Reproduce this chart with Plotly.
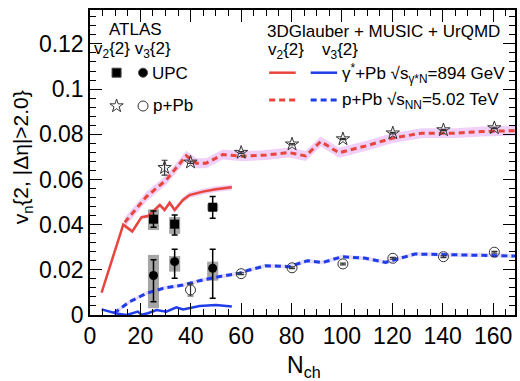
import plotly.graph_objects as go

# ---------------- data ----------------
# ATLAS UPC
upc_x = [25.2, 33.6, 48.7]
upc_v2 = [0.0424, 0.0402, 0.0477]
upc_v2_stat_up = [0.0036, 0.0041, 0.0047]
upc_v2_stat_dn = [0.0036, 0.0048, 0.0049]
upc_v2_sys_up = [0.0044, 0.0031, 0.0015]
upc_v2_sys_dn = [0.0048, 0.0043, 0.0015]
upc_v3 = [0.0175, 0.0236, 0.0207]
upc_v3_stat_up = [0.0069, 0.0055, 0.0084]
upc_v3_stat_dn = [0.0116, 0.0073, 0.0133]
upc_v3_sys_up = [0.0091, 0.0025, 0.0029]
upc_v3_sys_dn = [0.0145, 0.0044, 0.0055]

# ATLAS p+Pb
ppb_x = [29.6, 39.9, 60.0, 80.2, 100.4, 120.2, 140.3, 160.5]
ppb_v2 = [0.0652, 0.0676, 0.0719, 0.0756, 0.0779, 0.0805, 0.0819, 0.0828]
ppb_v2_err = [0.0033, 0.0005, 0.0004, 0.0003, 0.0003, 0.0003, 0.0003, 0.0003]
ppb_v3_x = [39.9, 60.0, 80.2, 100.4, 120.2, 140.3, 160.5]
ppb_v3 = [0.0111, 0.0183, 0.0209, 0.0226, 0.0251, 0.0258, 0.0278]
ppb_v3_err = [0.0027, 0.0004, 0.0004, 0.0004, 0.0004, 0.0004, 0.0004]

# 3DGlauber + MUSIC + UrQMD, gamma*+Pb
g_x = [4.6, 13.2, 16.8, 20.4, 23.0, 25.7, 27.7, 29.6, 31.6, 33.6, 36.9, 39.5, 44.8, 50.0, 56.3]
g_v2 = [0.0099, 0.0400, 0.0370, 0.0432, 0.0438, 0.0465, 0.0487, 0.0465, 0.0497, 0.0465, 0.0509, 0.0531, 0.0546, 0.0557, 0.0565]
g_v2_band = [0.0008, 0.0009, 0.0009, 0.0009, 0.0009, 0.0010, 0.0010, 0.0011, 0.0011, 0.0012, 0.0012, 0.0013, 0.0013, 0.0013, 0.0013]
g3_x = [4.6, 10.5, 14.5, 19.0, 20.4, 23.0, 26.4, 30.3, 34.3, 36.9, 43.5, 50.0, 56.3]
g_v3 = [0.0025, 0.0007, 0.0000, 0.0015, 0.0001, 0.0008, 0.0022, 0.0015, 0.0034, 0.0025, 0.0040, 0.0044, 0.0038]

# 3DGlauber + MUSIC + UrQMD, p+Pb
p_x = [13.8, 22.4, 30.3, 38.2, 42.2, 46.1, 52.7, 60.6, 70.0, 79.0, 85.6, 91.6, 98.8, 109.4, 119.9, 131.7, 145.0, 155.5, 168.7]
p_v2 = [0.0410, 0.0524, 0.0598, 0.0705, 0.0672, 0.0672, 0.0710, 0.0703, 0.0708, 0.0719, 0.0704, 0.0768, 0.0718, 0.0748, 0.0782, 0.0805, 0.0805, 0.0812, 0.0816]
p_v2_band = 0.0022
p3_x = [9.5, 15.8, 22.4, 29.0, 36.9, 43.5, 51.4, 59.3, 63.2, 69.8, 79.0, 86.3, 92.2, 100.1, 109.4, 117.3, 129.0, 145.0, 155.5, 168.7]
p_v3 = [0.0008, 0.0059, 0.0096, 0.0118, 0.0133, 0.0152, 0.0170, 0.0185, 0.0199, 0.0218, 0.0214, 0.0240, 0.0232, 0.0258, 0.0251, 0.0233, 0.0270, 0.0266, 0.0266, 0.0261]
p_v3_band = 0.0009

X_RANGE = [0, 168.7]
Y_RANGE = [0, 0.135]

RED = "#e8453c"
BLUE = "#1f3de8"
BAND = "rgba(222,150,240,0.45)"
BAND_B = "rgba(190,160,240,0.35)"
DASH = "6px,4px"
FONT = "Liberation Sans, Arial, Helvetica, sans-serif"

fig = go.Figure()


def band(x, y, w, color):
    ws = w if isinstance(w, list) else [w] * len(x)
    xs = list(x) + list(x)[::-1]
    ys = [a + b for a, b in zip(y, ws)] + [a - b for a, b in zip(y, ws)][::-1]
    fig.add_trace(go.Scatter(x=xs, y=ys, fill="toself", fillcolor=color, mode="none",
                             showlegend=False, hoverinfo="skip"))


band(p_x, p_v2, p_v2_band, BAND)
band(p3_x, p_v3, p_v3_band, BAND_B)
band(g_x, g_v2, g_v2_band, BAND)

# systematic boxes
BOXW = 2.2
for xs, ys, up, dn in [(upc_x, upc_v2, upc_v2_sys_up, upc_v2_sys_dn),
                       (upc_x, upc_v3, upc_v3_sys_up, upc_v3_sys_dn)]:
    for x, y, u, d in zip(xs, ys, up, dn):
        fig.add_trace(go.Scatter(x=[x - BOXW, x + BOXW, x + BOXW, x - BOXW, x - BOXW],
                                 y=[y - d, y - d, y + u, y + u, y - d],
                                 fill="toself", fillcolor="rgba(150,150,150,0.85)",
                                 mode="none", showlegend=False, hoverinfo="skip"))

# model curves
fig.add_trace(go.Scatter(x=p_x, y=p_v2, mode="lines", line=dict(color=RED, width=3, dash=DASH)))
fig.add_trace(go.Scatter(x=p3_x, y=p_v3, mode="lines", line=dict(color=BLUE, width=3, dash=DASH)))
fig.add_trace(go.Scatter(x=g_x, y=g_v2, mode="lines", line=dict(color=RED, width=2.5)))
fig.add_trace(go.Scatter(x=g3_x, y=g_v3, mode="lines", line=dict(color=BLUE, width=2.5)))

# data points
fig.add_trace(go.Scatter(x=ppb_x, y=ppb_v2, mode="markers",
                         marker=dict(symbol="star-open", size=10, color="#333", line=dict(width=1)),
                         error_y=dict(type="data", array=ppb_v2_err, color="#333", thickness=1.2, width=3)))
fig.add_trace(go.Scatter(x=ppb_v3_x, y=ppb_v3, mode="markers",
                         marker=dict(symbol="circle-open", size=10, color="#333", line=dict(width=1)),
                         error_y=dict(type="data", array=ppb_v3_err, color="#333", thickness=1.2, width=3)))
fig.add_trace(go.Scatter(x=upc_x, y=upc_v2, mode="markers",
                         marker=dict(symbol="square", size=9, color="black"),
                         error_y=dict(type="data", array=upc_v2_stat_up, arrayminus=upc_v2_stat_dn,
                                      color="black", thickness=1.5, width=3)))
fig.add_trace(go.Scatter(x=upc_x, y=upc_v3, mode="markers",
                         marker=dict(symbol="circle", size=9, color="black"),
                         error_y=dict(type="data", array=upc_v3_stat_up, arrayminus=upc_v3_stat_dn,
                                      color="black", thickness=1.5, width=3)))

# ---------------- legend (paper coords from pixel layout) ----------------
L, R, T, B = 90, 517, 10, 315


def px(x):
    return (x - L) / (R - L)


def py(y):
    return (B - y) / (B - T)


legend_markers = [
    (116.7, 72.7, "square", "black", 9),
    (143.3, 72.7, "circle", "black", 9),
    (116.7, 106, "star-open", "#333", 10),
    (143.3, 106, "circle-open", "#333", 10),
]
for lx, ly, sym, col, sz in legend_markers:
    fig.add_trace(go.Scatter(x=[px(lx)], y=[py(ly)], xaxis="x2", yaxis="y2", mode="markers",
                             marker=dict(symbol=sym, size=sz, color=col, line=dict(width=1)),
                             showlegend=False, hoverinfo="skip"))

legend_lines = [
    (270, 296.7, 72.7, RED, None),
    (311.7, 338.3, 72.7, BLUE, None),
    (270, 296.7, 100, RED, DASH),
    (311.7, 338.3, 100, BLUE, DASH),
]
for x0, x1, ly, col, dash in legend_lines:
    fig.add_trace(go.Scatter(x=[px(x0), px(x1)], y=[py(ly), py(ly)], xaxis="x2", yaxis="y2",
                             mode="lines", line=dict(color=col, width=3 if dash else 2.5, dash=dash),
                             showlegend=False, hoverinfo="skip"))

texts = [
    (107, 30, "ATLAS"),
    (92, 50, "v<sub>2</sub>{2} v<sub>3</sub>{2}"),
    (150, 73, "UPC"),
    (151, 106, "p+Pb"),
    (266, 31, "3DGlauber + MUSIC + UrQMD"),
    (267, 51, "v<sub>2</sub>{2}"),
    (321, 51, "v<sub>3</sub>{2}"),
    (341, 73, "γ<sup>*</sup>+Pb √s<sub>γ*N</sub>=894 GeV"),
    (341, 101, "p+Pb √s<sub>NN</sub>=5.02 TeV"),
]
annotations = []
for tx, ty, t in texts:
    annotations.append(dict(x=px(tx), y=py(ty), xref="paper", yref="paper", text=t, showarrow=False,
                            xanchor="left", yanchor="middle", font=dict(size=17, color="black", family=FONT)))
annotations.append(dict(x=px(305), y=py(366), xref="paper", yref="paper", text="N<sub>ch</sub>",
                        showarrow=False, xanchor="center", yanchor="middle",
                        font=dict(size=23, color="black", family=FONT)))
annotations.append(dict(x=px(22), y=py(157), xref="paper", yref="paper", text="v<sub>n</sub>{2, |Δη|>2.0}",
                        showarrow=False, xanchor="center", yanchor="middle", textangle=-90,
                        font=dict(size=21, color="black", family=FONT)))

axis_common = dict(showline=True, linecolor="black", linewidth=1.5, mirror="allticks", ticks="inside",
                   ticklen=12, tickwidth=1.3, tickcolor="black", showgrid=False, zeroline=False,
                   tickfont=dict(size=23, color="black", family=FONT))

fig.update_layout(
    width=520, height=381,
    margin=dict(l=L, r=520 - R, t=T, b=381 - B),
    paper_bgcolor="white", plot_bgcolor="white",
    showlegend=False,
    xaxis=dict(range=X_RANGE, dtick=20, tick0=0,
               minor=dict(ticks="inside", dtick=5, ticklen=6, tickwidth=1.2, tickcolor="black"),
               **axis_common),
    yaxis=dict(range=Y_RANGE, dtick=0.02, tick0=0,
               minor=dict(ticks="inside", dtick=0.004, ticklen=6, tickwidth=1.2, tickcolor="black"),
               **axis_common),
    xaxis2=dict(range=[0, 1], overlaying="x", visible=False),
    yaxis2=dict(range=[0, 1], overlaying="y", visible=False),
    annotations=annotations,
)

fig.write_html("out.html", config={"displayModeBar": False},
               post_script="document.body.style.margin='0';document.body.style.overflow='hidden';")
